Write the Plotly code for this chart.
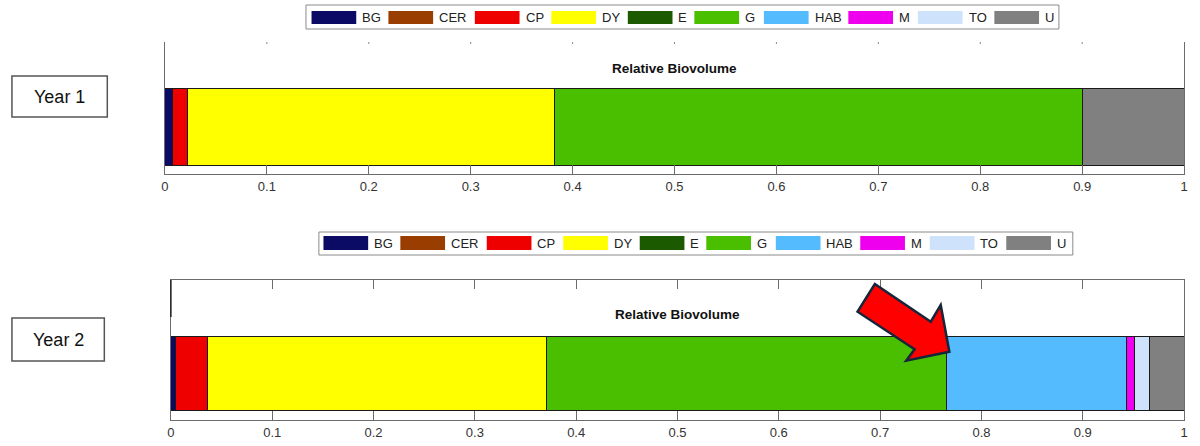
import plotly.graph_objects as go

# ---------------- data ----------------
categories = ["BG", "CER", "CP", "DY", "E", "G", "HAB", "M", "TO", "U"]
colors = ["#0b0b66", "#993d00", "#ee0000", "#ffff00", "#1c5a00",
          "#4abf00", "#55bbff", "#ee00ee", "#cfe2fc", "#808080"]
year1_values = [0.007, 0.0, 0.015, 0.360, 0.0, 0.518, 0.0, 0.0, 0.0, 0.100]
year2_values = [0.005, 0.0, 0.031, 0.335, 0.0, 0.395, 0.177, 0.008, 0.015, 0.034]
tick_vals = [0, 0.1, 0.2, 0.3, 0.4, 0.5, 0.6, 0.7, 0.8, 0.9, 1]
tick_text = ["0", "0.1", "0.2", "0.3", "0.4", "0.5", "0.6", "0.7", "0.8", "0.9", "1"]
panel_title = "Relative Biovolume"
year_labels = ["Year 1", "Year 2"]

# ---------------- layout constants (pixels) ----------------
W, H = 1200, 446
FONT = "Liberation Sans, Arial, sans-serif"


def px(x):
    return x / W


def py(y):
    return 1 - y / H


panels = [
    dict(x0=162, x1=1188, yt=42, yb=174, bc=0.356, bw=0.576, xa="x", ya="y"),
    dict(x0=168, x1=1188, yt=280, yb=420, bc=0.329, bw=0.529, xa="x2", ya="y2"),
]
legend_swatch_x = [309.6, 387, 474, 551, 628, 695, 765, 850, 920, 997]
legend_geo = [
    dict(dx=0, bx0=304, bx1=1062, by0=5, by1=29, sy0=11, sy1=24),
    dict(dx=12, bx0=317, bx1=1076, by0=232, by1=255, sy0=236, sy1=250),
]
year_boxes = [(8, 104, 76, 117), (8, 101, 318, 361)]
title_pos = [(675, 68), (678, 314)]

fig = go.Figure()

for values, p in zip([year1_values, year2_values], panels):
    for cat, val, col in zip(categories, values, colors):
        if val <= 0:
            continue
        fig.add_trace(go.Bar(
            x=[val], y=[p["bc"]], width=[p["bw"]], orientation="h",
            name=cat, marker=dict(color=col, line=dict(color="#1a1a1a", width=1)),
            xaxis=p["xa"], yaxis=p["ya"], showlegend=False,
            hovertemplate=cat + ": %{x:.3f}<extra></extra>",
        ))

axis_common = dict(range=[0, 1], showgrid=False, zeroline=False, showline=True,
                   linecolor="#6b6b6b", linewidth=1, ticks="inside", ticklen=9,
                   tickcolor="#6b6b6b", tickvals=tick_vals, ticktext=tick_text,
                   tickfont=dict(family=FONT, size=13, color="#333333"), fixedrange=True)
yaxis_common = dict(range=[0, 1], showgrid=False, zeroline=False, showline=True,
                    linecolor="#6b6b6b", linewidth=1, mirror=True, showticklabels=False,
                    ticks="", fixedrange=True)

p1, p2 = panels
fig.update_layout(
    width=W, height=H, barmode="stack",
    margin=dict(l=0, r=0, t=0, b=0),
    paper_bgcolor="white", plot_bgcolor="white",
    showlegend=False,
    xaxis=dict(domain=[px(p1["x0"]), px(p1["x1"])], anchor="y", mirror=False, **axis_common),
    yaxis=dict(domain=[py(p1["yb"]), py(p1["yt"])], anchor="x", **yaxis_common),
    xaxis2=dict(domain=[px(p2["x0"]), px(p2["x1"])], anchor="y2", mirror="ticks", **axis_common),
    yaxis2=dict(domain=[py(p2["yb"]), py(p2["yt"])], anchor="x2", **yaxis_common),
)

shapes = []
annotations = []

# tiny top tick marks on panel 1 (no top line)
for tv in tick_vals[1:-1]:
    shapes.append(dict(type="line", xref="x", yref="paper", x0=tv, x1=tv,
                       y0=py(p1["yt"]), y1=py(p1["yt"] + 2),
                       line=dict(color="#888888", width=1)))

# darker segment at top of panel 2 left spine
shapes.append(dict(type="line", xref="paper", yref="paper",
                   x0=px(p2["x0"]), x1=px(p2["x0"]), y0=py(280), y1=py(317),
                   line=dict(color="#222222", width=1.5)))

# panel titles
for (tx, ty) in title_pos:
    annotations.append(dict(text="<b>" + panel_title + "</b>", xref="paper", yref="paper",
                            x=px(tx), y=py(ty), xanchor="center", yanchor="middle",
                            showarrow=False, font=dict(family=FONT, size=13.5, color="#111111")))

# legends (drawn manually to match the wide colour swatches)
for lg in legend_geo:
    shapes.append(dict(type="rect", xref="paper", yref="paper",
                       x0=px(lg["bx0"]), x1=px(lg["bx1"]), y0=py(lg["by1"]), y1=py(lg["by0"]),
                       line=dict(color="#8a8a8a", width=1), fillcolor="white", layer="below"))
    for cat, col, sx in zip(categories, colors, legend_swatch_x):
        x0 = sx + lg["dx"]
        shapes.append(dict(type="rect", xref="paper", yref="paper",
                           x0=px(x0), x1=px(x0 + 45), y0=py(lg["sy1"]), y1=py(lg["sy0"]),
                           line=dict(width=0), fillcolor=col))
        annotations.append(dict(text=cat, xref="paper", yref="paper",
                                x=px(x0 + 49), y=py((lg["sy0"] + lg["sy1"]) / 2),
                                xanchor="left", yanchor="middle", showarrow=False,
                                font=dict(family=FONT, size=13, color="#222222")))

# year label boxes
for label, (bx0, bx1, by0, by1) in zip(year_labels, year_boxes):
    shapes.append(dict(type="rect", xref="paper", yref="paper",
                       x0=px(bx0), x1=px(bx1), y0=py(by1), y1=py(by0),
                       line=dict(color="#555555", width=1.5), fillcolor="white"))
    annotations.append(dict(text=label, xref="paper", yref="paper",
                            x=px((bx0 + bx1) / 2), y=py((by0 + by1) / 2),
                            xanchor="center", yanchor="middle", showarrow=False,
                            font=dict(family=FONT, size=18, color="#111111")))

# red callout arrow
arrow_pts = [(876.7, 284), (933, 321.7), (943, 305), (951.7, 351.7),
             (908.3, 360.7), (916.7, 349.3), (859.3, 311.7)]
path = "M " + " L ".join(f"{px(x):.5f},{py(y):.5f}" for x, y in arrow_pts) + " Z"
shapes.append(dict(type="path", xref="paper", yref="paper", path=path,
                   fillcolor="#ff0000", line=dict(color="#15263a", width=2.5)))

fig.update_layout(shapes=shapes, annotations=annotations)
fig.write_html(
    "out.html",
    config={"displayModeBar": False},
    post_script="document.body.style.margin='0';document.body.style.overflow='hidden';",
)
